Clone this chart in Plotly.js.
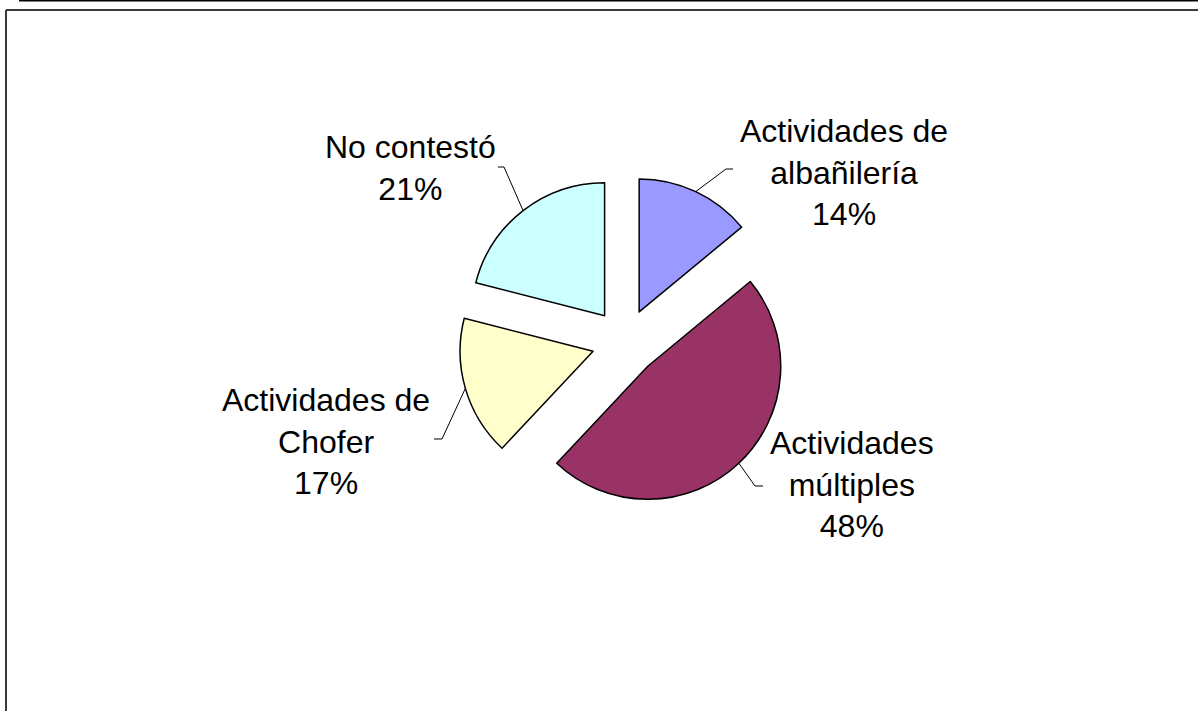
<!DOCTYPE html>
<html><head><meta charset="utf-8">
<script src="https://cdn.plot.ly/plotly-3.0.1.min.js"></script>
<style>html,body{margin:0;padding:0;background:#fff}#chart{width:1198px;height:711px}</style>
</head><body><div id="chart"></div>
<script>
// ---- data ----
const categories = ["Actividades de<br>albañilería", "Actividades<br>múltiples", "Actividades de<br>Chofer", "No contestó"];
const values = [14, 48, 17, 21];
const colors = ["#9999FF", "#993366", "#FFFFCC", "#CCFFFF"];

// ---- layout constants (pixels) ----
const W = 1198, H = 711;
const PULL = 0.25;
const pieCenter = [625, 342];
const pieBox = 332.5;              // side of the pie domain square
const labelPos = [[844, 172], [852, 484], [326, 441], [410, 168]];   // label block centres
const elbows = [[[726, 169], [733, 169]], [[755, 486], [763, 486]], [[442, 439], [434, 439]], [[504, 167], [498, 167]]];

const px = x => x / W, py = y => 1 - y / H;

const domain = {
  x: [px(pieCenter[0] - pieBox / 2), px(pieCenter[0] + pieBox / 2)],
  y: [py(pieCenter[1] + pieBox / 2), py(pieCenter[1] - pieBox / 2)]
};

const total = values.reduce((a, b) => a + b, 0);
const rFull = pieBox / 2 / (1 + PULL);

const annotations = [];
const shapes = [];
let cum = 0;
values.forEach((v, i) => {
  const mid = (cum + v / 2) / total * 2 * Math.PI;   // clockwise from 12 o'clock
  cum += v;
  const ux = Math.sin(mid), uy = -Math.cos(mid);
  const d = rFull * (1 + PULL);
  const ax = pieCenter[0] + d * ux, ay = pieCenter[1] + d * uy;
  const [e1, e2] = elbows[i];
  shapes.push({
    type: 'path', xref: 'paper', yref: 'paper',
    path: `M ${px(ax)} ${py(ay)} L ${px(e1[0])} ${py(e1[1])} L ${px(e2[0])} ${py(e2[1])}`,
    line: { color: '#000', width: 1 }
  });
  annotations.push({
    xref: 'paper', yref: 'paper', x: px(labelPos[i][0]), y: py(labelPos[i][1]),
    xanchor: 'center', yanchor: 'middle', showarrow: false, align: 'center',
    text: categories[i] + '<br>' + Math.round(v / total * 100) + '%',
    font: { family: 'Liberation Sans, Arial, sans-serif', size: 32, color: '#000' }
  });
});

// frame lines
shapes.push({ type: 'line', xref: 'paper', yref: 'paper', x0: px(19), x1: px(1200), y0: py(0.5), y1: py(0.5), line: { color: '#000', width: 2 } });
shapes.push({ type: 'line', xref: 'paper', yref: 'paper', x0: px(6), x1: px(1200), y0: py(10), y1: py(10), line: { color: '#3a3a3a', width: 2 } });
shapes.push({ type: 'line', xref: 'paper', yref: 'paper', x0: px(6), x1: px(6), y0: py(10), y1: py(715), line: { color: '#3a3a3a', width: 2 } });

const trace = {
  type: 'pie',
  labels: categories,
  values: values,
  sort: false,
  direction: 'clockwise',
  rotation: 0,
  pull: values.map(() => PULL),
  marker: { colors: colors, line: { color: '#000', width: 1.5 } },
  textinfo: 'none',
  hoverinfo: 'label+percent',
  domain: domain,
  showlegend: false
};

Plotly.newPlot('chart', [trace], {
  width: W, height: H,
  margin: { l: 0, r: 0, t: 0, b: 0 },
  paper_bgcolor: '#fff', plot_bgcolor: '#fff',
  showlegend: false,
  annotations: annotations,
  shapes: shapes
}, { displayModeBar: false, staticPlot: true });
</script>
</body></html>
